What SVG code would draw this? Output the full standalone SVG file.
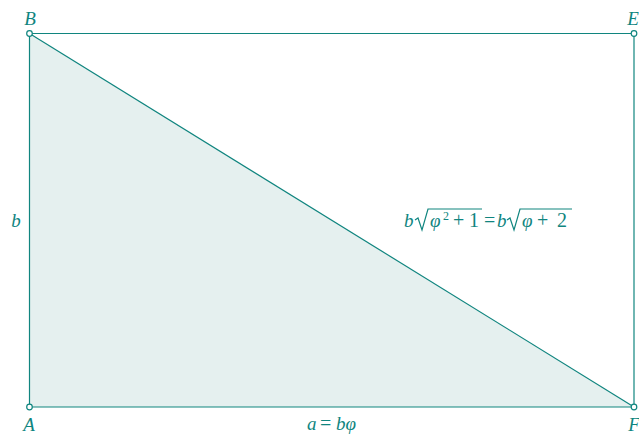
<svg xmlns="http://www.w3.org/2000/svg" width="639" height="437" viewBox="0 0 639 437">
<style>
.ln{stroke:#10857f;stroke-width:1.2;fill:none}
.pt{fill:#fff;stroke:#10857f;stroke-width:1.2}
.t{font-family:"Liberation Serif",serif;font-style:italic;font-size:19px;fill:#10857f}
.m{font-family:"Liberation Serif",serif;font-size:20px;fill:#10857f}
.s{font-family:"Liberation Serif",serif;font-size:12px;fill:#10857f}
</style>
<rect width="639" height="437" fill="#fff"/>
<g id="triangle"><polygon points="29.5,33.5 29.5,407 634,407" fill="#e5f0ef" stroke="none"/></g>
<g id="connectors">
<line class="ln" x1="29.5" y1="33.5" x2="634" y2="33.5"/>
<line class="ln" x1="634" y1="33.5" x2="634" y2="407"/>
<line class="ln" x1="29.5" y1="33.5" x2="29.5" y2="407"/>
<line class="ln" x1="29.5" y1="407" x2="634" y2="407"/>
<line class="ln" x1="29.5" y1="33.5" x2="634" y2="407"/>
</g>
<g id="B"><circle class="pt" cx="29.5" cy="33.5" r="2.8"/><text class="t" x="30" y="25" text-anchor="middle">B</text></g>
<g id="E"><circle class="pt" cx="634" cy="33.5" r="2.8"/><text class="t" x="633" y="25" text-anchor="middle">E</text></g>
<g id="A"><circle class="pt" cx="29.5" cy="407" r="2.8"/><text class="t" x="29" y="431" text-anchor="middle">A</text></g>
<g id="F"><circle class="pt" cx="634" cy="407" r="2.8"/><text class="t" x="634" y="431" text-anchor="middle">F</text></g>
<g id="label-b"><text class="t" x="16" y="227" text-anchor="middle">b</text></g>
<g id="label-a">
<text class="t" x="307" y="430">a</text>
<text class="m" x="320" y="430">=</text>
<text class="t" x="336" y="430">bφ</text>
</g>
<g id="label-diag">
<text class="t" x="404" y="227">b</text>
<path class="ln" d="M415,220 L418,218 L422,230 L428,209 L482,209"/>
<text class="t" x="430" y="227">φ</text>
<text class="s" x="443" y="220">2</text>
<text class="m" x="453" y="227">+</text>
<text class="m" x="469" y="227">1</text>
<text class="m" x="484" y="227">=</text>
<text class="t" x="497" y="227">b</text>
<path class="ln" d="M507,220 L510,218 L514,230 L520,209 L572,209"/>
<text class="t" x="522" y="227">φ</text>
<text class="m" x="537" y="227">+</text>
<text class="m" x="557" y="227">2</text>
</g>
</svg>
